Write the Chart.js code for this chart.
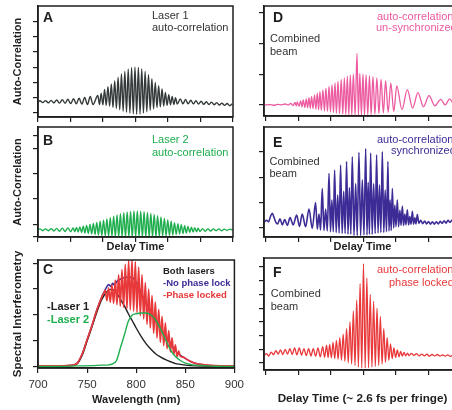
<!DOCTYPE html>
<html>
<head>
<meta charset="utf-8">
<script src="https://cdn.jsdelivr.net/npm/chart.js@4.4.0/dist/chart.umd.min.js"></script>
<style>
  html, body { margin: 0; padding: 0; background: #fff; }
  body { position: relative; width: 452px; height: 410px; overflow: hidden; }
  canvas { position: absolute; }
</style>
</head>
<body>
<canvas id="chartA" width="235" height="120" style="left:0;top:4px;width:235px;height:120px"></canvas>
<canvas id="chartB" width="235" height="130" style="left:0;top:125px;width:235px;height:130px"></canvas>
<canvas id="chartC" width="249" height="163" style="left:0;top:246px;width:249px;height:163px"></canvas>
<canvas id="chartD" width="207" height="119" style="left:256px;top:4px;width:207px;height:119px"></canvas>
<canvas id="chartE" width="207" height="130" style="left:256px;top:125px;width:207px;height:130px"></canvas>
<canvas id="chartF" width="207" height="152" style="left:256px;top:256px;width:207px;height:152px"></canvas>
<script>
'use strict'

// delay in fs, signal in arbitrary units
let delayA = [0, 1.5, 3.65, 5.8, 7.95, 10.1, 12.25, 14.4, 16.55, 18.7, 20.85, 23, 25.15, 27.3, 29.45, 31.6, 33.75, 35.9, 38.05, 40.2, 42.35,
    46, 47.3, 48.6, 49.9, 51.2, 52.5, 53.8, 55.1, 56.4, 57.7, 59, 60.3, 61.6, 62.9, 64.2, 65.5, 66.8, 68.1, 69.4, 70.7, 72, 73.3, 74.6, 75.9,
    77.2, 78.5, 79.8, 81.1, 82.4, 83.7, 85, 86.3, 87.6, 88.9, 90.2, 91.5, 92.8, 94.1, 95.4, 96.7, 98, 99.3, 100.6, 101.9, 103.2, 104.5, 105.8, 107.1,
    109.5, 111.5, 113.5, 115.5, 117.5, 119.5, 121.5, 123.5, 125.5, 127.5, 129.5, 131.5, 133.5, 135.5, 137.5, 139.5, 141.5, 143.5, 145.5, 147.5, 149.5]
let laser1Auto = [0.72, 0.80, 0.68, 0.81, 0.67, 0.83, 0.66, 0.85, 0.65, 0.87, 0.64, 0.90, 0.62, 0.93, 0.60, 0.97, 0.58, 1.02, 0.56, 1.08, 0.55,
    1.15, 0.55, 1.30, 0.53, 1.55, 0.50, 1.72, 0.45, 1.90, 0.36, 2.12, 0.30, 2.32, 0.22, 2.55, 0.12, 2.72, 0.05, 2.86, 0.00, 2.96, -0.05, 3.00, -0.08,
    2.98, -0.06, 2.88, 0.00, 2.72, 0.08, 2.50, 0.18, 2.25, 0.28, 2.00, 0.35, 1.78, 0.40, 1.58, 0.46, 1.35, 0.50, 1.20, 0.54, 1.08, 0.56, 1.00, 0.58,
    0.92, 0.60, 0.88, 0.60, 0.84, 0.60, 0.80, 0.58, 0.77, 0.57, 0.74, 0.56, 0.71, 0.54, 0.68, 0.52, 0.65, 0.50, 0.62, 0.48, 0.60]

let delayB = [0, 1.5, 3.65, 5.8, 7.95, 10.1, 12.25, 14.4, 16.55, 18.7, 20.85, 23, 25.15,
    27, 28.3, 29.6, 30.9, 32.2, 33.5, 34.8, 36.1, 37.4, 38.7, 40, 41.3, 42.6, 43.9, 45.2, 46.5, 47.8, 49.1, 50.4, 51.7, 53, 54.3, 55.6, 56.9,
    58.2, 59.5, 60.8, 62.1, 63.4, 64.7, 66, 67.3, 68.6, 69.9, 71.2, 72.5, 73.8, 75.1, 76.4, 77.7, 79, 80.3, 81.6, 82.9, 84.2, 85.5, 86.8, 88.1,
    89.4, 90.7, 92, 93.3, 94.6, 95.9, 97.2, 98.5, 99.8, 101.1, 102.4, 103.7, 105, 106.3, 107.6, 108.9, 110.2, 111.5, 112.8, 114.1, 115.4, 116.7,
    118, 119.3, 120.6, 121.9, 123.2, 124.5,
    126.5, 128.6, 130.7, 132.8, 134.9, 137, 139.1, 141.2, 143.3, 145.4, 147.5, 150]
let laser2Auto = [0.28, 0.32, 0.25, 0.32, 0.25, 0.33, 0.24, 0.34, 0.23, 0.35, 0.22, 0.36, 0.21,
    0.36, 0.21, 0.38, 0.20, 0.40, 0.18, 0.43, 0.16, 0.46, 0.14, 0.50, 0.12, 0.54, 0.10, 0.58, 0.08, 0.62, 0.06, 0.66, 0.05, 0.71, 0.04, 0.76, 0.03,
    0.82, 0.02, 0.87, 0.01, 0.92, 0.01, 0.96, 0.00, 0.99, 0.00, 1.01, 0.00, 1.03, 0.00, 1.03, 0.00, 1.02, 0.00, 1.00, 0.00, 0.97, 0.01, 0.93, 0.01,
    0.89, 0.02, 0.84, 0.03, 0.79, 0.04, 0.73, 0.05, 0.67, 0.06, 0.62, 0.08, 0.57, 0.10, 0.53, 0.12, 0.49, 0.14, 0.45, 0.16, 0.42, 0.18,
    0.39, 0.20, 0.37, 0.21, 0.35, 0.22,
    0.33, 0.23, 0.32, 0.24, 0.32, 0.25, 0.32, 0.25, 0.31, 0.26, 0.31, 0.27]

let delayD = [-1.5, 3, 6, 9, 12, 15, 17, 19, 20.8, 22.4, 23.3,
    24.1, 25.4, 26.7, 27.7, 28.7, 29.9, 31, 32, 33.1, 34.1, 35.1, 36.2, 37.4, 38.4, 39.5, 40.5, 41.5, 42.6, 43.8, 45, 46.1, 47.3, 48.5, 49.6,
    50.8, 51.9, 53.1, 54.2, 55.4, 56.6, 57.9, 59.1, 60.3, 61.4, 62.6, 63.7, 64.9, 66, 67.2, 68.6, 70, 71.1, 72.2, 73.4, 74.6, 75.8, 77, 78.3,
    79.6, 80.9, 82.3, 83.8, 85.3, 86.9, 88.5, 90.3, 92, 94, 96, 98.3, 100.6, 104.6, 108.7, 112.8, 116.9, 121.1, 125.4, 129.9, 134.4, 137.8,
    141.3, 144.5, 148, 150]
let unsyncAuto = [0, 0.01, -0.01, 0.02, 0, 0.03, 0, 0.05, -0.02, 0.08, -0.03,
    0.10, -0.05, 0.13, -0.06, 0.16, -0.08, 0.20, -0.09, 0.24, -0.11, 0.28, -0.12, 0.33, -0.14, 0.38, -0.16, 0.43, -0.18, 0.49, -0.20, 0.55, -0.21, 0.60, -0.23,
    0.66, -0.25, 0.72, -0.27, 0.77, -0.28, 0.83, -0.30, 0.88, -0.31, 0.93, -0.32, 0.97, -0.33, 1.00, -0.33, 1.68, -0.33, 1.02, -0.33, 1.00, -0.33, 0.98, -0.32,
    0.95, -0.31, 0.92, -0.30, 0.88, -0.28, 0.83, -0.26, 0.78, -0.24, 0.72, -0.22, 0.62, -0.15, 0.50, -0.10, 0.40, -0.06, 0.30, -0.03, 0.18, 0.00,
    0.20, 0.02, 0.15, 0.10]

let delayE = [-1.5, 0.5, 2, 3.5, 4.9, 6.3, 7.6, 9, 10.8, 12.6, 14.4, 16.5, 18.5, 21, 23.6, 25.8, 27.9, 30.5, 33.1, 35.6,
    38.2, 39.5, 40.8, 42, 43.3, 44.6, 45.9, 47.2, 48.5, 49.6, 50.7, 51.8, 52.8, 54, 55.2, 56.3, 57.4, 58.6, 59.8, 60.9, 62, 63.1, 64.2, 65.3,
    66.4, 67.7, 69, 70.2, 71.5, 72.8, 74.1, 75.4, 76.7, 77.7, 78.6, 79.6, 80.5, 81.7, 82.8, 84, 85.1, 86.2, 87.3, 88.4, 89.5, 90.6, 91.7, 92.7,
    93.8, 94.6, 95.5, 96.3, 97.2, 98.2, 99.1, 100, 101, 102, 103, 103.9, 104.9, 105.8, 106.8, 107.7, 108.7, 109.7, 110.6, 111.6, 112.6, 113.5,
    114.5, 115.4, 116.4, 117.6,
    119, 120.5, 122, 123.5, 125, 126.5, 128, 129.5, 131, 132.5, 134, 135.5, 137, 138.5, 140, 141.5, 143, 146, 150]
let syncAuto = [0.22, 0.30, 0.24, 0.45, 0.58, 0.40, 0.22, 0.16, 0.36, 0.12, 0.33, 0.10, 0.41, 0.12, 0.51, 0.06, 0.55, 0.05, 0.75, -0.02,
    1.00, -0.05, 0.55, -0.08, 1.56, -0.10, 0.75, -0.12, 2.16, -0.15, 1.10, -0.15, 2.29, -0.18, 1.30, -0.20, 2.49, -0.22, 1.45, -0.22, 2.62, -0.25, 1.60, -0.25,
    2.81, -0.30, 1.75, -0.30, 2.99, -0.30, 1.90, -0.28, 3.14, -0.28, 1.80, -0.25, 2.96, -0.25, 1.75, -0.22, 2.89, -0.20, 1.70, -0.18, 3.02, -0.18, 1.50, -0.15,
    2.62, -0.12, 1.10, -0.10, 1.56, 0.00, 0.90, 0.05, 1.11, 0.05, 0.70, 0.10, 0.86, 0.10, 0.55, 0.12, 0.72, 0.12, 0.45, 0.15, 0.66, 0.15,
    0.40, 0.16, 0.53, 0.18,
    0.30, 0.17, 0.27, 0.16, 0.25, 0.15, 0.24, 0.15, 0.24, 0.16, 0.26, 0.18, 0.28, 0.19, 0.30, 0.22, 0.30, 0.25, 0.28]

let delayF = [-1.5, 0.5, 2.2, 4, 5.8, 7.6, 9.4, 11.2, 13, 14.8, 16.6, 18.4, 20.2, 22, 23.8, 25.6, 27.4, 29.2, 31, 32.8, 34.6, 36.4, 38.2, 40,
    41.8, 43.6, 45.1, 46.6, 47.8,
    49, 50.3, 51.6, 52.9, 54.2, 55.5, 56.8, 58.1, 59.4, 60.7, 62, 63.3, 64.6, 65.9, 67.2, 68.5, 69.8, 71.1, 72.4, 73.7, 75, 76.3, 77.6, 78.9,
    80.2, 81.5, 82.8, 84.1, 85.4, 86.7, 88, 89.3, 90.6, 91.9, 93.2, 94.5, 95.8, 97.1, 98.4, 99.7, 101, 102.3, 103.6, 104.9, 106.2, 107.5, 108.8, 110.1,
    111.8, 113.8, 115.8, 117.8, 119.8, 121.8, 123.8, 125.8, 127.8, 129.8, 131.8, 133.8, 135.8, 137.8, 139.8, 141.8, 143.8, 146, 150]
let lockedAuto = [0.55, 0.68, 0.50, 0.80, 0.60, 0.90, 0.65, 0.95, 0.62, 1.00, 0.65, 1.05, 0.62, 1.10, 0.60, 1.10, 0.58, 1.05, 0.55, 1.05, 0.52, 1.05, 0.50, 1.10,
    0.45, 1.20, 0.42, 1.30, 0.40,
    1.35, 0.38, 1.50, 0.33, 1.65, 0.28, 1.85, 0.20, 2.10, 0.12, 2.50, 0.02, 3.00, -0.08, 3.80, -0.18, 4.60, -0.28, 5.80, -0.36, 7.25, -0.38, 6.20, -0.35,
    5.00, -0.30, 4.50, -0.25, 4.00, -0.18, 3.40, -0.08, 2.50, 0.05, 1.85, 0.20, 1.40, 0.32, 1.10, 0.40, 0.95, 0.45, 0.85, 0.50, 0.78, 0.52, 0.72, 0.54,
    0.70, 0.55, 0.68, 0.52, 0.65, 0.52, 0.64, 0.50, 0.62, 0.52, 0.62, 0.50, 0.60, 0.50, 0.60, 0.48, 0.58, 0.50, 0.56]

// spectra, wavelength in nm
let wlLaser1 = [700, 720, 735, 740, 745, 750, 755, 760, 765, 770, 775, 780, 784, 788, 792, 796, 800, 805, 810, 815, 820, 825, 830, 835, 840, 845, 850, 860, 880, 900]
let laser1Spec = [0.03, 0.03, 0.05, 0.12, 0.45, 1.00, 1.55, 2.12, 2.60, 2.90, 3.00, 2.85, 2.60, 2.35, 2.05, 1.78, 1.50, 1.18, 0.90, 0.68, 0.50, 0.38, 0.28, 0.20, 0.13, 0.10, 0.07, 0.04, 0.03, 0.03]
let wlLaser2 = [700, 720, 740, 755, 765, 772, 776, 780, 784, 788, 792, 796, 800, 805, 810, 815, 820, 825, 830, 835, 840, 845, 850, 855, 860, 870, 880, 900]
let laser2Spec = [0.02, 0.02, 0.04, 0.05, 0.07, 0.08, 0.12, 0.25, 0.75, 1.24, 1.76, 2.00, 2.05, 2.08, 2.08, 2.00, 1.80, 1.45, 1.05, 0.65, 0.40, 0.25, 0.15, 0.10, 0.07, 0.05, 0.03, 0.02]
let wlNoLock = [700, 720, 735, 740, 745, 750, 755, 760, 765, 769, 772, 774, 776, 778, 780, 784, 788, 792, 795, 798, 802, 806, 810, 815, 820, 825, 830, 835, 840, 845, 850, 855, 860, 870, 880, 900]
let noLockSpec = [0.04, 0.04, 0.07, 0.15, 0.50, 1.05, 1.60, 2.20, 2.70, 3.02, 3.18, 3.10, 3.22, 3.15, 3.28, 3.38, 3.45, 3.47, 3.45, 3.38, 3.12, 2.78, 2.45, 2.05, 1.75, 1.45, 1.20, 0.90, 0.62, 0.45, 0.33, 0.22, 0.14, 0.08, 0.05, 0.04]
let wlLocked = [700, 720, 735, 740, 745, 750, 755, 760, 765, 767,
    768.5, 770.2, 771.9, 773.6, 775.3, 777, 778.7, 780.4, 782.1, 783.8, 785.5, 787.2, 788.9, 790.6, 792.3, 794, 795.7, 797.4, 799.1, 800.8,
    802.5, 804.2, 805.9, 807.6, 809.3, 811, 812.7, 814.4, 816.1, 817.8, 819.5, 821.2, 822.9, 824.6, 826.3, 828, 829.7, 831.4, 833.1, 834.8,
    836.5, 838.2, 839.9, 841.6, 843.3,
    845, 848, 850, 855, 860, 870, 880, 900]
let lockedSpec = [0.04, 0.04, 0.07, 0.15, 0.50, 1.05, 1.60, 2.20, 2.70, 2.85,
    2.95, 2.55, 3.05, 2.50, 3.15, 2.45, 3.35, 2.40, 3.55, 2.35, 3.75, 2.30, 3.95, 2.25, 4.10, 2.20, 4.15, 2.15, 4.05, 2.10,
    3.85, 1.98, 3.55, 1.85, 3.25, 1.65, 3.00, 1.50, 2.75, 1.30, 2.50, 1.12, 2.22, 0.95, 1.95, 0.82, 1.70, 0.70, 1.40, 0.58,
    1.12, 0.48, 0.85, 0.40, 0.62,
    0.40, 0.38, 0.33, 0.22, 0.14, 0.08, 0.05, 0.04]

// tick positions
let delayTicks = [0, 25, 50, 75, 100, 125, 150]
let wlTicks = [700, 750, 800, 850, 900]
let yTicksA = [0, 1, 2, 3, 4, 5, 6]
let yTicksB = [0, 0.5, 1.5, 2.5, 3.5, 4]
let yTicksC = [0, 1, 2, 3, 4]
let yTicksD = [0, 1, 2, 3]
let yTicksE = [0, 1, 2, 3]
let yTicksF = [0, 1, 2, 3, 4, 5, 6, 7]

const INK = '#1e1e1e'
const GREY = '#333'
const GREEN = '#1fae4e'
const PINK = '#ec5aa0'
const PURPLE = '#3d2c96'
const RED = '#e8383a'

Chart.defaults.font.family = "'Liberation Sans', Arial, Helvetica, sans-serif"
Chart.defaults.color = GREY

let textAndFrame = function (items) {
    return {
        id: 'textAndFrame',
        afterDatasetsDraw(chart) {
            let ctx = chart.ctx, a = chart.chartArea
            ctx.save()
            ctx.strokeStyle = INK
            ctx.lineWidth = 1.5
            ctx.strokeRect(a.left, a.top, a.right - a.left, a.bottom - a.top)
            ctx.textBaseline = 'alphabetic'
            ctx.textAlign = 'left'
            items.forEach(it => {
                ctx.font = it.font
                ctx.fillStyle = it.color
                ctx.fillText(it.text, a.left + it.dx, a.top + it.dy)
            })
            ctx.restore()
        }
    }
}

let series = function (xs, ys, color, width) {
    return {
        data: xs.map((x, i) => ({x: x, y: ys[i]})),
        borderColor: color,
        borderWidth: width,
        pointRadius: 0,
        fill: false,
        cubicInterpolationMode: 'monotone'
    }
}

let panel = function (id, p) {
    return new Chart(document.getElementById(id), {
        type: 'line',
        data: {datasets: p.datasets},
        options: {
            responsive: false,
            animation: false,
            events: [],
            layout: {padding: {top: p.padTop || 2, right: p.padRight || 2, left: 0, bottom: 0}},
            plugins: {legend: {display: false}, tooltip: {enabled: false}},
            scales: {
                x: {
                    type: 'linear', min: p.xMin, max: p.xMax,
                    afterBuildTicks: s => { s.ticks = p.xTicks.map(v => ({value: v})) },
                    afterFit: s => { s.height = p.xH },
                    ticks: {display: !!p.xLabels, padding: 5, font: {size: 11.5}, color: GREY},
                    grid: {drawOnChartArea: false, tickLength: 5, color: INK, lineWidth: 1.2},
                    border: {color: INK, width: 1.5},
                    title: {
                        display: !!p.xTitle, text: p.xTitle || '', color: INK,
                        font: {size: p.xTitleSize || 11, weight: 'bold'}, padding: {top: 0, bottom: p.xTitlePad || 0}
                    }
                },
                y: {
                    type: 'linear', min: p.yMin, max: p.yMax,
                    afterBuildTicks: s => { s.ticks = p.yTicks.map(v => ({value: v})) },
                    afterFit: s => { s.width = p.yW },
                    ticks: {display: false},
                    grid: {drawOnChartArea: false, tickLength: 5, color: INK, lineWidth: 1.2},
                    border: {color: INK, width: 1.5},
                    title: {
                        display: !!p.yTitle, text: p.yTitle || '', color: INK,
                        font: {size: p.yTitleSize || 11, weight: 'bold'}, padding: {top: p.yTitlePad || 0, bottom: 0}
                    }
                }
            }
        },
        plugins: [textAndFrame(p.labels)]
    })
}

const BIG = 'bold 14px "Liberation Sans", Arial, sans-serif'
const NOTE = '11px "Liberation Sans", Arial, sans-serif'
const NOTE_B = 'bold 11px "Liberation Sans", Arial, sans-serif'
const LEG_B = 'bold 9.5px "Liberation Sans", Arial, sans-serif'

panel('chartA', {
    datasets: [series(delayA, laser1Auto, '#343a3a', 1.4)],
    xMin: 0, xMax: 150, xTicks: delayTicks, xH: 7,
    yMin: -0.26, yMax: 7, yTicks: yTicksA, yW: 38,
    yTitle: 'Auto-Correlation', yTitlePad: 11,
    labels: [
        {text: 'A', dx: 5, dy: 16, font: BIG, color: INK},
        {text: 'Laser 1', dx: 114, dy: 13, font: NOTE, color: GREY},
        {text: 'auto-correlation', dx: 114, dy: 25, font: NOTE, color: GREY}
    ]
})

panel('chartB', {
    datasets: [series(delayB, laser2Auto, GREEN, 1.4)],
    xMin: 0, xMax: 150, xTicks: delayTicks, xH: 18, xTitle: 'Delay Time', xTitlePad: 1.4,
    yMin: 0, yMax: 4.35, yTicks: yTicksB, yW: 38,
    yTitle: 'Auto-Correlation', yTitlePad: 11,
    labels: [
        {text: 'B', dx: 5, dy: 18, font: BIG, color: INK},
        {text: 'Laser 2', dx: 114, dy: 16, font: NOTE, color: GREEN},
        {text: 'auto-correlation', dx: 114, dy: 29, font: NOTE, color: GREEN}
    ]
})

// Chart.js paints dataset 0 last (on top): green, red, black, blue
panel('chartC', {
    datasets: [
        series(wlLaser2, laser2Spec, GREEN, 1.4),
        series(wlLocked, lockedSpec, RED, 1.7),
        series(wlLaser1, laser1Spec, '#222', 1.4),
        series(wlNoLock, noLockSpec, PURPLE, 1.5)
    ],
    xMin: 700, xMax: 900, xTicks: wlTicks, xH: 41, xLabels: true,
    xTitle: 'Wavelength (nm)', xTitlePad: 2.4, padRight: 14, padTop: 14,
    yMin: -0.04, yMax: 4.12, yTicks: yTicksC, yW: 38,
    yTitle: 'Spectral Interferometry', yTitleSize: 11.5, yTitlePad: 10.6,
    labels: [
        {text: 'C', dx: 5, dy: 14, font: BIG, color: INK},
        {text: 'Both lasers', dx: 125, dy: 14, font: LEG_B, color: '#222'},
        {text: '-No phase lock', dx: 125, dy: 25.7, font: LEG_B, color: PURPLE},
        {text: '-Phase locked', dx: 125, dy: 37.7, font: LEG_B, color: RED},
        {text: '-Laser 1', dx: 9, dy: 50, font: NOTE_B, color: '#222'},
        {text: '-Laser 2', dx: 9, dy: 62.7, font: NOTE_B, color: GREEN}
    ]
})

panel('chartD', {
    datasets: [series(delayD, unsyncAuto, PINK, 1.3)],
    xMin: -1.5, xMax: 150, xTicks: delayTicks, xH: 7,
    yMin: -0.36, yMax: 3.22, yTicks: yTicksD, yW: 8,
    labels: [
        {text: 'D', dx: 9, dy: 15.7, font: BIG, color: INK},
        {text: 'Combined', dx: 6, dy: 35.7, font: NOTE, color: GREY},
        {text: 'beam', dx: 6, dy: 49, font: NOTE, color: GREY},
        {text: 'auto-correlation', dx: 113, dy: 14, font: NOTE, color: PINK},
        {text: 'un-synchronized', dx: 112, dy: 24.7, font: NOTE, color: PINK}
    ]
})

panel('chartE', {
    datasets: [series(delayE, syncAuto, PURPLE, 1.6)],
    xMin: -1.5, xMax: 150, xTicks: delayTicks, xH: 18, xTitle: 'Delay Time', xTitlePad: 1.4,
    yMin: -0.36, yMax: 3.99, yTicks: yTicksE, yW: 8,
    labels: [
        {text: 'E', dx: 9, dy: 19.7, font: BIG, color: INK},
        {text: 'Combined', dx: 5.5, dy: 38, font: NOTE, color: GREY},
        {text: 'beam', dx: 5.5, dy: 50.3, font: NOTE, color: GREY},
        {text: 'auto-correlation', dx: 113, dy: 16.3, font: NOTE, color: PURPLE},
        {text: 'synchronized', dx: 127, dy: 27.3, font: NOTE, color: PURPLE}
    ]
})

panel('chartF', {
    datasets: [series(delayF, lockedAuto, RED, 1.3)],
    xMin: -1.5, xMax: 150, xTicks: delayTicks, xH: 38,
    xTitle: 'Delay Time (~ 2.6 fs per fringe)', xTitleSize: 11.7, xTitlePad: 2.4,
    yMin: -0.51, yMax: 7.66, yTicks: yTicksF, yW: 8,
    labels: [
        {text: 'F', dx: 9, dy: 18.7, font: BIG, color: INK},
        {text: 'Combined', dx: 6.7, dy: 38.7, font: NOTE, color: GREY},
        {text: 'beam', dx: 6.7, dy: 52, font: NOTE, color: GREY},
        {text: 'auto-correlation', dx: 113, dy: 15.3, font: NOTE, color: RED},
        {text: 'phase locked', dx: 125, dy: 27.7, font: NOTE, color: RED}
    ]
})
</script>
</body>
</html>
